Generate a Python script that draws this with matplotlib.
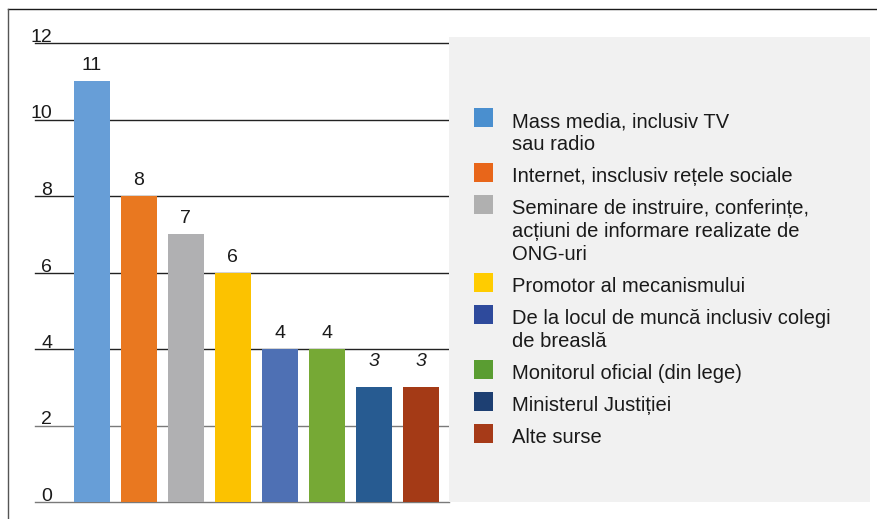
import matplotlib
matplotlib.use("Agg")
import matplotlib.pyplot as plt
from matplotlib.patches import Rectangle
from matplotlib.lines import Line2D

plt.rcParams['font.family'] = ['Liberation Sans', 'DejaVu Sans']

# ---- data ----
categories = [
    "Mass media, inclusiv TV\nsau radio",
    "Internet, insclusiv rețele sociale",
    "Seminare de instruire, conferințe,\nacțiuni de informare realizate de\nONG-uri",
    "Promotor al mecanismului",
    "De la locul de muncă inclusiv colegi\nde breaslă",
    "Monitorul oficial (din lege)",
    "Ministerul Justiției",
    "Alte surse",
]
values = [11, 8, 7, 6, 4, 4, 3, 3]
value_labels = ["11", "8", "7", "6", "4", "4", "3", "3"]
italic_label = [False, False, False, False, False, False, True, True]
yticks = [0, 2, 4, 6, 8, 10, 12]

bar_colors = ["#679ED7", "#E97820", "#B0B0B2", "#FCC200",
              "#4E70B4", "#76A935", "#275B91", "#A43A16"]
legend_colors = ["#4A8FCF", "#E8661A", "#B0B0B0", "#FFCC00",
                 "#2E4A9C", "#5A9D32", "#1D3F72", "#A63A18"]

W, H = 878, 519
fig = plt.figure(figsize=(W / 100, H / 100), dpi=100)


def fx(x):
    return x / W


def fy(y):
    return 1 - y / H


# axes: x 35..449 px, y 43..502 px
ax = fig.add_axes([fx(35), fy(502), fx(449) - fx(35), fy(43) - fy(502)])
x = list(range(len(values)))
ax.bar(x, values, width=0.77, color=bar_colors, zorder=3)
ax.set_xlim(-1.21, 7.6)
ax.set_ylim(0, 12)
for s in ax.spines.values():
    s.set_visible(False)
ax.set_xticks([])
ax.set_yticks([])

for t in yticks:
    col = "#222222" if t >= 4 else "#7a7a7a"
    ax.axhline(t, color=col, lw=1.0, zorder=1, clip_on=False)
    ax.annotate(str(t), xy=(17 / 414, t), xycoords=ax.get_yaxis_transform(),
                xytext=(0, 1), textcoords="offset pixels",
                ha="right", va="baseline", fontsize=14, color="#1a1a1a",
                annotation_clip=False)

for xi, v, lab, it in zip(x, values, value_labels, italic_label):
    ax.annotate(lab, xy=(xi, v), xytext=(0, 21 if it else 11),
                textcoords="offset pixels", ha="center", va="baseline",
                fontsize=14, color="#1a1a1a",
                style="italic" if it else "normal")

# legend box
fig.add_artist(Rectangle((fx(449), fy(502)), fx(870) - fx(449), fy(37) - fy(502),
                         transform=fig.transFigure, facecolor="#F1F1F1",
                         edgecolor="none", zorder=5))
baseline = 127
line_h = 23
for lab, col in zip(categories, legend_colors):
    lines = lab.split("\n")
    fig.add_artist(Rectangle((fx(474), fy(baseline)), fx(493) - fx(474), fy(baseline - 19) - fy(baseline),
                             transform=fig.transFigure, facecolor=col,
                             edgecolor="none", zorder=6))
    for k, ln in enumerate(lines):
        fig.text(fx(512), fy(baseline + k * line_h), ln, ha="left", va="baseline",
                 fontsize=14.5, color="#1a1a1a", zorder=7)
    baseline += (len(lines) - 1) * line_h + 32

# figure border (top and left)
fig.add_artist(Line2D([fx(8), 1], [fy(9), fy(9)], transform=fig.transFigure,
                      color="#1a1a1a", lw=1.0))
fig.add_artist(Line2D([fx(8), fx(8)], [fy(9), 0], transform=fig.transFigure,
                      color="#555555", lw=1.0))

fig.savefig("out.png", dpi=100)
